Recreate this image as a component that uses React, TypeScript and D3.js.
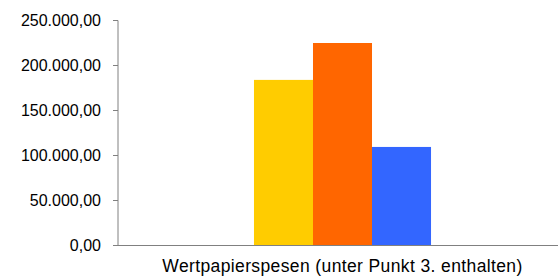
import React from "react";
import * as d3 from "d3";

const categories = ["Wertpapierspesen (unter Punkt 3. enthalten)"];
const seriesNames = ["Serie 1", "Serie 2", "Serie 3"];
const seriesValues = [184000, 225000, 109500];
const seriesColors = ["#FFCC00", "#FF6600", "#3366FF"];
const yTicks = [0, 50000, 100000, 150000, 200000, 250000];

const W = 558;
const H = 276;
const left = 118;
const right = 567;
const top = 20.5;
const bottom = 245.5;

const fmt = (v: number) => {
  const s = v.toFixed(2);
  const [i, d] = s.split(".");
  return i.replace(/\B(?=(\d{3})+(?!\d))/g, ".") + "," + d;
};

export default function App() {
  const y = d3.scaleLinear().domain([0, 250000]).range([bottom, top]);
  const x0 = d3.scaleBand().domain(categories).range([left, right]).paddingInner(0).paddingOuter(0.768);
  const x1 = d3.scaleBand().domain(seriesNames).range([0, x0.bandwidth()]).padding(0);
  const font = "'Liberation Sans', Arial, sans-serif";
  return (
    <svg width={W} height={H} style={{ position: "absolute", left: 0, top: 0 }} fontFamily={font}>
      {categories.map((c) => (
        <g key={c} transform={`translate(${x0(c)},0)`}>
          {seriesValues.map((v, i) => (
            <rect
              key={i}
              x={x1(seriesNames[i])}
              y={y(v)}
              width={x1.bandwidth()}
              height={bottom - y(v)}
              fill={seriesColors[i]}
            />
          ))}
        </g>
      ))}
      <line x1={left} x2={W} y1={bottom} y2={bottom} stroke="#808080" strokeWidth={1} />
      <line x1={left} x2={left} y1={top} y2={bottom} stroke="#808080" strokeWidth={1} />
      {yTicks.map((t) => (
        <g key={t}>
          <line x1={left - 5} x2={left} y1={y(t)} y2={y(t)} stroke="#808080" strokeWidth={1} />
          <text x={101} y={y(t)} dy="0.35em" textAnchor="end" fontSize={16} fill="#000">
            {fmt(t)}
          </text>
        </g>
      ))}
      {categories.map((c) => (
        <text
          key={c}
          x={(x0(c) as number) + x0.bandwidth() / 2}
          y={272}
          textAnchor="middle"
          fontSize={17.5}
          letterSpacing={0.38}
          fill="#000"
        >
          {c}
        </text>
      ))}
    </svg>
  );
}
